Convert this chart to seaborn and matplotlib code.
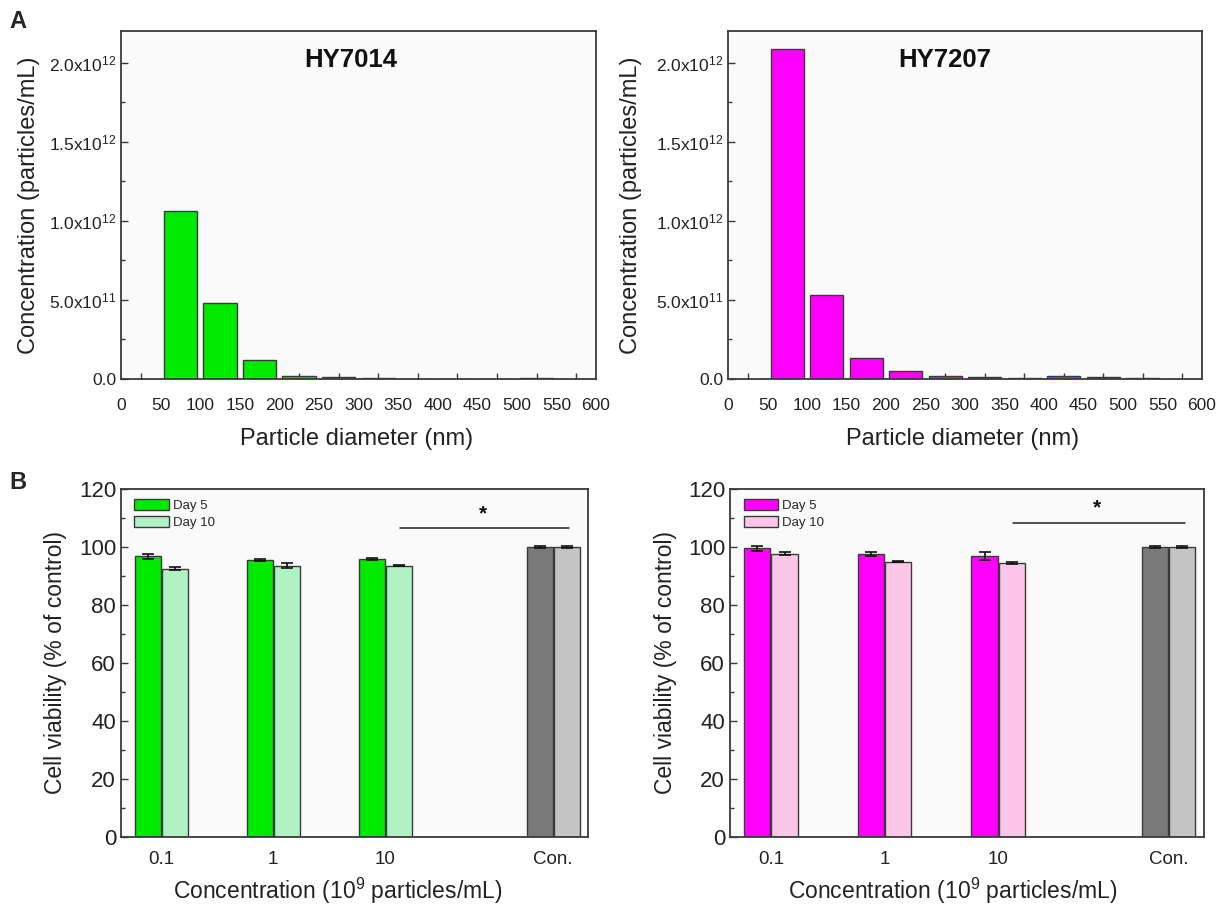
import numpy as np
import pandas as pd
import matplotlib
matplotlib.use("Agg")
import matplotlib.pyplot as plt
import seaborn as sns
from matplotlib.patches import Patch
from matplotlib.ticker import MultipleLocator, FixedLocator, FuncFormatter

# particle size distribution (bin centres in nm)
diameter = [75, 125, 175, 225, 275, 325, 375, 425, 475, 525, 575]
conc_hy7014 = [1.065e12, 0.483e12, 0.120e12, 0.020e12, 0.012e12, 0.004e12, 0.0, 0.0, 0.0, 0.004e12, 0.0]
conc_hy7207 = [2.088e12, 0.533e12, 0.130e12, 0.048e12, 0.021e12, 0.015e12, 0.008e12, 0.019e12, 0.013e12, 0.005e12, 0.0]

# cell viability
groups = ["0.1", "1", "10", "Con."]
group_pos = [0, 1, 2, 3.5]
via_7014_d5 = [96.8, 95.5, 95.9, 100.0]
via_7014_d10 = [92.5, 93.6, 93.5, 100.0]
err_7014_d5 = [0.8, 0.5, 0.4, 0.5]
err_7014_d10 = [0.5, 0.7, 0.2, 0.5]
via_7207_d5 = [99.5, 97.6, 96.9, 100.0]
via_7207_d10 = [97.7, 94.9, 94.5, 100.0]
err_7207_d5 = [1.0, 0.6, 1.5, 0.5]
err_7207_d10 = [0.5, 0.2, 0.4, 0.5]

sns.set_style("white")
plt.rcParams["font.family"] = ["Liberation Sans", "DejaVu Sans"]
plt.rcParams["mathtext.fontset"] = "custom"
plt.rcParams["mathtext.rm"] = "Liberation Sans"
plt.rcParams["mathtext.it"] = "Liberation Sans:italic"
plt.rcParams["mathtext.bf"] = "Liberation Sans:bold"

EDGE = "#3a3a3a"
TXT = "#222222"

fig = plt.figure(figsize=(12.17, 9.06), dpi=100)
ax1 = fig.add_axes([0.0994, 0.5817, 0.3903, 0.3841])
ax2 = fig.add_axes([0.5982, 0.5817, 0.3895, 0.3841])
ax3 = fig.add_axes([0.0994, 0.0762, 0.3837, 0.3841])
ax4 = fig.add_axes([0.5998, 0.0762, 0.3895, 0.3841])


def sci_fmt(v, pos):
    if abs(v) < 1:
        return "0.0"
    if v < 0:
        return ""
    e = int(np.floor(np.log10(v) + 1e-9))
    m = v / 10 ** e
    return "%.1fx10$^{%d}$" % (m, e)


def style_frame(ax):
    ax.set_facecolor("#fafafa")
    for s in ax.spines.values():
        s.set_visible(True)
        s.set_color(EDGE)
        s.set_linewidth(1.3)


def size_panel(ax, conc, color, title, tx, ylx):
    df = pd.DataFrame({"d": diameter, "c": conc})
    sns.barplot(data=df, x="d", y="c", native_scale=True, width=0.84,
                color=color, saturation=1, edgecolor=EDGE, linewidth=1.0, ax=ax)
    style_frame(ax)
    ax.set_xlim(0, 600)
    ax.set_ylim(0, 2.2e12)
    ax.xaxis.set_major_locator(MultipleLocator(50))
    ax.xaxis.set_minor_locator(FixedLocator(np.arange(25, 600, 50)))
    ax.yaxis.set_major_locator(MultipleLocator(5e11))
    ax.yaxis.set_minor_locator(MultipleLocator(2.5e11))
    ax.yaxis.set_major_formatter(FuncFormatter(sci_fmt))
    ax.tick_params(axis="x", which="major", length=0, labelsize=12.5, labelcolor=TXT, pad=14)
    ax.tick_params(axis="x", which="minor", direction="in", length=4, width=1, color=EDGE, bottom=True)
    ax.tick_params(axis="y", which="both", direction="in", color=EDGE, width=1, left=True,
                   labelsize=12.5, labelcolor=TXT)
    ax.tick_params(axis="y", which="major", length=5)
    ax.tick_params(axis="y", which="minor", length=3)
    ax.set_xlabel("Particle diameter (nm)", fontsize=17, color=TXT)
    ax.set_ylabel("Concentration (particles/mL)", fontsize=17, color=TXT)
    ax.xaxis.set_label_coords(0.495, -0.14)
    ax.yaxis.set_label_coords(ylx, 0.5)
    ax.text(tx, 0.917, title, transform=ax.transAxes, ha="center", va="center",
            fontsize=18.5, fontweight="bold", color="#111111")


size_panel(ax1, conc_hy7014, "#00ea00", "HY7014", 0.484, -0.171)
size_panel(ax2, conc_hy7207, "#ff00ff", "HY7207", 0.458, -0.181)


def viab_panel(ax, d5, d10, e5, e10, c5, c10, line_y, star_y, xlx, ylx):
    df = pd.DataFrame({
        "pos": group_pos * 2,
        "val": d5 + d10,
        "day": ["Day 5"] * 4 + ["Day 10"] * 4,
    })
    sns.barplot(data=df, x="pos", y="val", hue="day", hue_order=["Day 5", "Day 10"],
                native_scale=True, width=0.48, gap=0.04, palette=[c5, c10], saturation=1,
                edgecolor=EDGE, linewidth=1.0, errorbar=None, legend=False, ax=ax)
    errs = e5 + e10
    greys = ["#7a7a7a", "#c4c4c4"]
    bars = [p for p in ax.patches if p.get_height() > 0]
    for i, p in enumerate(bars):
        cx = p.get_x() + p.get_width() / 2
        if cx > 3:
            p.set_facecolor(greys[i // 4])
        ax.errorbar(cx, p.get_height(), yerr=errs[i], color="#111111",
                    capsize=4, capthick=1.2, elinewidth=1.2, zorder=5)
    style_frame(ax)
    ax.set_xlim(-0.36, 3.81)
    ax.set_ylim(0, 120)
    ax.set_xticks(group_pos)
    ax.set_xticklabels(groups)
    ax.yaxis.set_major_locator(MultipleLocator(20))
    ax.yaxis.set_minor_locator(MultipleLocator(10))
    ax.tick_params(axis="x", length=0, labelsize=13.5, labelcolor=TXT, pad=10)
    ax.tick_params(axis="y", which="both", direction="in", color=EDGE, width=1, left=True,
                   labelsize=16, labelcolor=TXT)
    ax.tick_params(axis="y", which="major", length=5)
    ax.tick_params(axis="y", which="minor", length=3)
    ax.set_xlabel("Concentration (10$^{9}$ particles/mL)", fontsize=16.5, color=TXT)
    ax.set_ylabel("Cell viability (% of control)", fontsize=16.5, color=TXT)
    ax.xaxis.set_label_coords(xlx, -0.112)
    ax.yaxis.set_label_coords(ylx, 0.5)
    ax.plot([2.13, 3.64], [line_y, line_y], color="#222222", lw=1.1)
    ax.text(2.87, star_y, "*", ha="center", va="center", fontsize=15, fontweight="bold", color="#111111")
    handles = [Patch(facecolor=c5, edgecolor=EDGE, linewidth=1.0, label="Day 5"),
               Patch(facecolor=c10, edgecolor=EDGE, linewidth=1.0, label="Day 10")]
    ax.legend(handles=handles, loc="upper left", bbox_to_anchor=(0.012, 0.995), frameon=False,
              fontsize=9.5, handlelength=2.6, handleheight=0.9, labelspacing=0.3,
              handletextpad=0.3, borderaxespad=0.2)


viab_panel(ax3, via_7014_d5, via_7014_d10, err_7014_d5, err_7014_d10,
           "#00ea00", "#b0f2c4", 106.4, 111.5, 0.465, -0.116)
viab_panel(ax4, via_7207_d5, via_7207_d10, err_7207_d5, err_7207_d10,
           "#ff00ff", "#fcc6e8", 108.4, 113.5, 0.47, -0.112)

fig.text(18 / 1217, 1 - 22 / 906, "A", fontsize=17, fontweight="bold", ha="center", va="center")
fig.text(18 / 1217, 1 - 483 / 906, "B", fontsize=17, fontweight="bold", ha="center", va="center")

fig.savefig("out.png", dpi=100)
